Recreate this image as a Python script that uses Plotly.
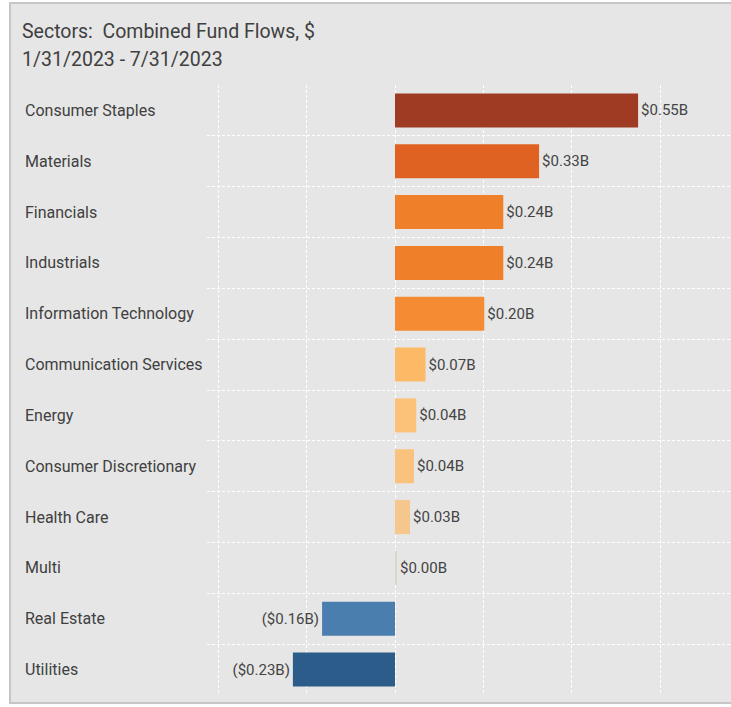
import plotly.graph_objects as go

categories = ["Consumer Staples", "Materials", "Financials", "Industrials",
              "Information Technology", "Communication Services", "Energy",
              "Consumer Discretionary", "Health Care", "Multi", "Real Estate", "Utilities"]
values = [0.55, 0.326, 0.245, 0.245, 0.202, 0.069, 0.048, 0.043, 0.034, 0.003, -0.165, -0.231]
labels = ["$0.55B", "$0.33B", "$0.24B", "$0.24B", "$0.20B", "$0.07B", "$0.04B",
          "$0.04B", "$0.03B", "$0.00B", "($0.16B)", "($0.23B)"]
colors = ["#9E3B22", "#E06222", "#F07F2A", "#F07F2A", "#F58B32", "#FDBA66", "#FCC27A",
          "#FAC37D", "#F5C78C", "#DCD6CB", "#4A7EAE", "#2C5C8A"]
x_ticks = [-0.4, -0.2, 0.0, 0.2, 0.4, 0.6]
title_lines = ["Sectors:  Combined Fund Flows, $", "1/31/2023 - 7/31/2023"]

W, H = 731, 707
L, R, T, B = 207, 0, 85, 12
pw, ph = W - L - R, H - T - B

def px_x(p):
    return (p - L) / pw

def px_y(p):
    return (H - B - p) / ph

pos = list(range(len(categories)))
font = "Roboto"

fig = go.Figure(go.Bar(
    y=pos, x=values, orientation="h",
    marker=dict(color=colors, line=dict(width=0)),
    width=0.67,
    text=labels, textposition="outside", cliponaxis=False,
    textfont=dict(family=font, size=15, color="#444444"),
    hoverinfo="skip",
))

fig.update_layout(
    width=W, height=H,
    margin=dict(l=L, r=R, t=T, b=B, pad=0),
    paper_bgcolor="white", plot_bgcolor="rgba(0,0,0,0)",
    showlegend=False,
    font=dict(family=font),
    xaxis=dict(range=[(L - 395) / 442, (W - 395) / 442], tickvals=x_ticks,
               showticklabels=False, showgrid=True, gridcolor="white", griddash="3px,2px",
               gridwidth=1, zeroline=False, showline=False, fixedrange=True),
    yaxis=dict(range=[len(categories) - 0.5, -0.5], tickvals=pos, showticklabels=False,
               showgrid=False, zeroline=False, showline=False, fixedrange=True,
               minor=dict(tickvals=[i + 0.5 for i in pos[:-1]], showgrid=True,
                          gridcolor="white", griddash="3px,2px", gridwidth=1, ticks="")),
)

# panel background with border
fig.add_shape(type="rect", xref="paper", yref="paper", layer="below",
              x0=px_x(10), x1=px_x(W + 10), y0=px_y(703), y1=px_y(3),
              fillcolor="#E6E6E6", line=dict(color="#C6C6C6", width=2))

# title (two lines)
for line, yc in zip(title_lines, [32, 59]):
    fig.add_annotation(xref="paper", yref="paper", x=px_x(20), y=px_y(yc), xanchor="left",
                       yanchor="middle", text=line, showarrow=False, align="left",
                       font=dict(family=font, size=19.5, color="#404040"))

# left aligned category labels
for i, c in zip(pos, categories):
    fig.add_annotation(xref="paper", yref="y", x=px_x(23), y=i, xanchor="left", yanchor="middle",
                       text=c, showarrow=False, font=dict(family=font, size=16, color="#404040"))

fig.write_html("out.html", config={"displayModeBar": False},
               post_script="document.body.style.margin='0';document.body.style.overflow='hidden';")
